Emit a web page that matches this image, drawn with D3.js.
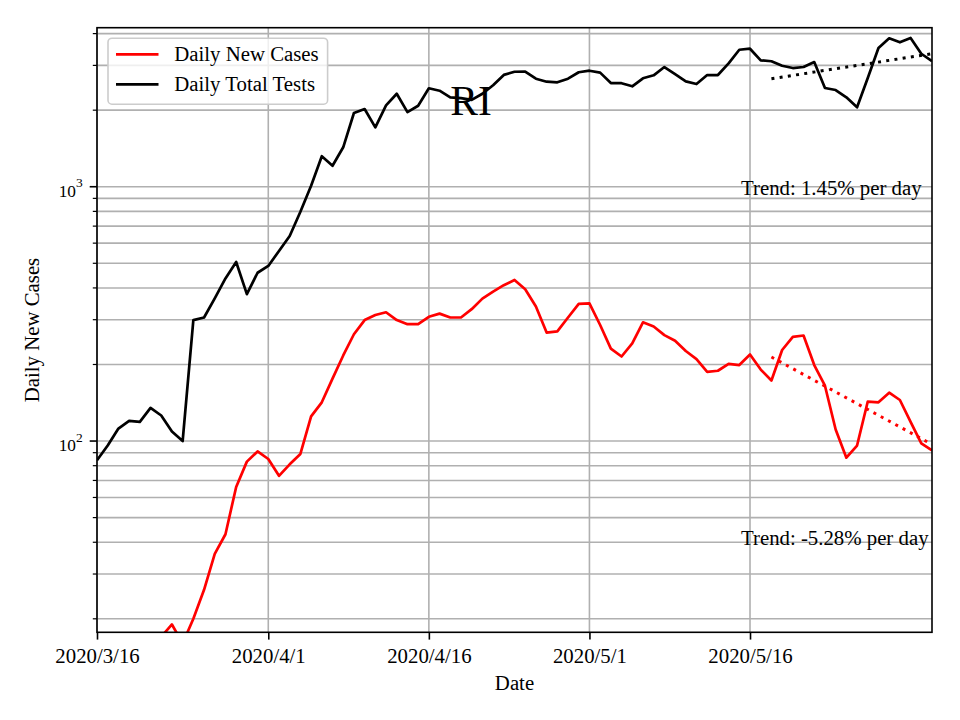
<!DOCTYPE html>
<html>
<head>
<meta charset="utf-8">
<script src="https://cdn.jsdelivr.net/npm/d3@7"></script>
<style>
  body { margin: 0; background: #fff; }
  svg { display: block; }
  text { font-family: "Liberation Serif", "Times New Roman", Times, serif; fill: #000; }
</style>
</head>
<body>
<svg id="chart" width="960" height="720"></svg>
<script>
// ---------------- data ----------------
const startDate = "2020-03-16";
const endDate = "2020-06-02";
const xTickDates = ["2020-03-16", "2020-04-01", "2020-04-16", "2020-05-01", "2020-05-16"];
const xTickLabels = ["2020/3/16", "2020/4/1", "2020/4/16", "2020/5/1", "2020/5/16"];
const yMajorTicks = [100, 1000];
const yMajorExponents = ["2", "3"];
const yDomain = [17.7, 4220];

const dailyTests = [
  84, 96, 112, 120, 119, 135, 126, 109, 100, 299,
  306, 364, 436, 506, 378, 459, 488, 559, 640, 797,
  1009, 1318, 1209, 1429, 1949, 2021, 1712, 2089, 2321, 1966,
  2082, 2438, 2385, 2246, 2232, 2195, 2320, 2505, 2752, 2832,
  2838, 2659, 2588, 2574, 2659, 2820, 2859, 2810, 2557, 2553,
  2482, 2669, 2742, 2956, 2774, 2597, 2534, 2749, 2749, 3055,
  3457, 3489, 3141, 3114, 2991, 2929, 2956, 3092, 2444, 2400,
  2246, 2052, 2676, 3510, 3833, 3697, 3846, 3334, 3114
];

const dailyCases = [
  null, null, null, null, null, null, 17, 19, 16, 20,
  26, 36, 43, 66, 83, 91, 85, 73, 81, 89,
  125, 142, 176, 217, 263, 299, 313, 321, 299, 288,
  288, 308, 317, 306, 306, 330, 363, 387, 410, 430,
  395, 338, 267, 270, 306, 346, 348, 286, 231, 215,
  242, 293, 282, 261, 248, 226, 210, 187, 189, 201,
  199, 219, 191, 173, 228, 257, 260, 199, 165, 111,
  86, 96, 143, 142, 155, 145, 119, 98, 92
];

const trendDates = ["2020-05-18", "2020-06-02"];
const testsTrend = [2659, 3334];
const casesTrend = [214, 97];
const trendLabels = ["Trend: 1.45% per day", "Trend: -5.28% per day"];
const trendLabelValues = [988, 41.6];
const trendLabelDate = "2020-05-16";

const seriesNames = ["Daily New Cases", "Daily Total Tests"];
const seriesColors = ["#ff0000", "#000000"];
const titleText = "RI";
const xLabel = "Date";
const yLabel = "Daily New Cases";

// ---------------- layout ----------------
const W = 960, H = 720;
const L = 97, R = 932, T = 27.7, B = 632.3;
const FS = 20.8;

const parse = d3.utcParse("%Y-%m-%d");
const t0 = parse(startDate);
const dates = dailyTests.map((_, i) => d3.utcDay.offset(t0, i));

const x = d3.scaleUtc().domain([parse(startDate), parse(endDate)]).range([L, R]);
const y = d3.scaleLog().domain(yDomain).range([B, T]);

const svg = d3.select("#chart");
svg.append("rect").attr("width", W).attr("height", H).attr("fill", "#fff");

svg.append("defs").append("clipPath").attr("id", "plotclip")
  .append("rect").attr("x", L).attr("y", T).attr("width", R - L).attr("height", B - T);

// grid lines
const yGridVals = [];
[10, 100, 1000].forEach(dec => {
  for (let k = 1; k <= 9; k++) {
    const v = dec * k;
    if (v >= yDomain[0] && v <= yDomain[1]) yGridVals.push(v);
  }
});
const grid = svg.append("g");
grid.selectAll("line.hg").data(yGridVals).join("line")
  .attr("x1", L).attr("x2", R)
  .attr("y1", d => y(d)).attr("y2", d => y(d))
  .attr("stroke", "#b0b0b0").attr("stroke-width", 1.6);
grid.selectAll("line.vg").data(xTickDates).join("line")
  .attr("x1", d => x(parse(d))).attr("x2", d => x(parse(d)))
  .attr("y1", T).attr("y2", B)
  .attr("stroke", "#b0b0b0").attr("stroke-width", 1.6);

// data lines
const plot = svg.append("g").attr("clip-path", "url(#plotclip)");
const line = d3.line()
  .defined(d => d[1] != null)
  .x(d => x(d[0])).y(d => y(d[1]));

plot.append("path")
  .attr("d", line(dates.map((d, i) => [d, dailyCases[i]])))
  .attr("fill", "none").attr("stroke", seriesColors[0])
  .attr("stroke-width", 2.7).attr("stroke-linejoin", "round");

plot.append("path")
  .attr("d", line(dates.map((d, i) => [d, dailyTests[i]])))
  .attr("fill", "none").attr("stroke", seriesColors[1])
  .attr("stroke-width", 2.7).attr("stroke-linejoin", "round");

// trend lines
const trendLine = d3.line().x(d => x(d[0])).y(d => y(d[1]));
plot.append("path")
  .attr("d", trendLine(trendDates.map((d, i) => [parse(d), casesTrend[i]])))
  .attr("fill", "none").attr("stroke", seriesColors[0])
  .attr("stroke-width", 3).attr("stroke-dasharray", "3,5.3");
plot.append("path")
  .attr("d", trendLine(trendDates.map((d, i) => [parse(d), testsTrend[i]])))
  .attr("fill", "none").attr("stroke", seriesColors[1])
  .attr("stroke-width", 3).attr("stroke-dasharray", "3,5.3");

// trend labels
trendLabels.forEach((lab, i) => {
  svg.append("text")
    .attr("x", x(parse(trendLabelDate)) - 9)
    .attr("y", y(trendLabelValues[i]) + 7)
    .attr("font-size", FS)
    .text(lab);
});

// title
svg.append("text")
  .attr("x", 471).attr("y", 115.3)
  .attr("text-anchor", "middle")
  .attr("font-size", 41.6)
  .text(titleText);

// spines
svg.append("rect")
  .attr("x", L).attr("y", T).attr("width", R - L).attr("height", B - T)
  .attr("fill", "none").attr("stroke", "#000").attr("stroke-width", 1.6);

// x axis ticks + labels
const xAxis = svg.append("g").attr("transform", `translate(0,${B})`)
  .call(d3.axisBottom(x)
    .tickValues(xTickDates.map(parse))
    .tickFormat((d, i) => xTickLabels[i])
    .tickSizeInner(7.3).tickSizeOuter(0).tickPadding(5));
xAxis.select(".domain").remove();
xAxis.selectAll(".tick line").attr("stroke", "#000").attr("stroke-width", 1.6);
xAxis.selectAll(".tick text")
  .attr("font-size", FS)
  .attr("font-family", '"Liberation Serif", "Times New Roman", serif')
  .attr("fill", "#000")
  .attr("dy", null).attr("y", 30.4);

// y axis ticks
const yAxis = svg.append("g").attr("transform", `translate(${L},0)`);
yAxis.selectAll("line.minor").data(yGridVals.filter(v => !yMajorTicks.includes(v))).join("line")
  .attr("x1", -4.2).attr("x2", 0)
  .attr("y1", d => y(d)).attr("y2", d => y(d))
  .attr("stroke", "#000").attr("stroke-width", 1.2);
yAxis.selectAll("line.major").data(yMajorTicks).join("line")
  .attr("x1", -7.3).attr("x2", 0)
  .attr("y1", d => y(d)).attr("y2", d => y(d))
  .attr("stroke", "#000").attr("stroke-width", 1.6);
yMajorTicks.forEach((v, i) => {
  const t = yAxis.append("text")
    .attr("x", -14.3).attr("y", y(v) + 10)
    .attr("text-anchor", "end");
  t.append("tspan").attr("font-size", 17.3).text("10");
  t.append("tspan").attr("font-size", 13.5).attr("dy", -9.3).text(yMajorExponents[i]);
});

// axis labels
svg.append("text")
  .attr("x", (L + R) / 2).attr("y", 690)
  .attr("text-anchor", "middle").attr("font-size", FS)
  .text(xLabel);
svg.append("text")
  .attr("transform", `translate(39.3,${(T + B) / 2}) rotate(-90)`)
  .attr("text-anchor", "middle").attr("font-size", FS)
  .text(yLabel);

// legend
const lg = svg.append("g");
lg.append("rect")
  .attr("x", 108).attr("y", 38.2).attr("width", 219.6).attr("height", 66)
  .attr("rx", 4).attr("ry", 4)
  .attr("fill", "#fff").attr("fill-opacity", 0.8)
  .attr("stroke", "#cccccc").attr("stroke-width", 1.6);
seriesNames.forEach((name, i) => {
  const cy = 54.3 + i * 30;
  lg.append("line")
    .attr("x1", 116).attr("x2", 158.5)
    .attr("y1", cy).attr("y2", cy)
    .attr("stroke", seriesColors[i]).attr("stroke-width", 2.7);
  lg.append("text")
    .attr("x", 174.3).attr("y", cy + 7)
    .attr("font-size", FS)
    .text(name);
});
</script>
</body>
</html>
